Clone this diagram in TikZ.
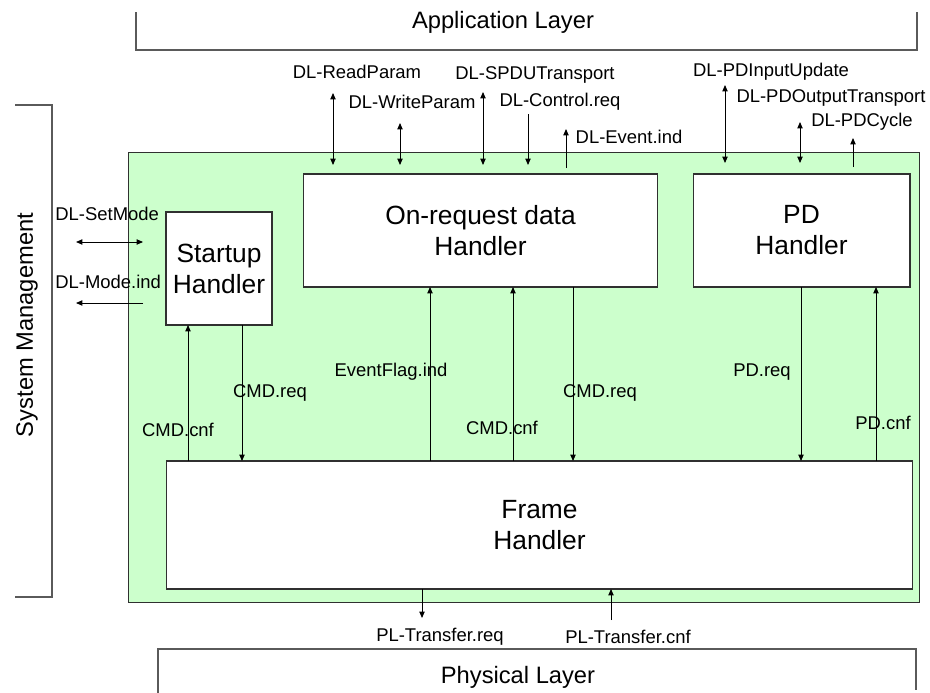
\documentclass[tikz,border=0pt]{standalone}
\usepackage{fontspec}
\setmainfont{Liberation Sans}
\usetikzlibrary{arrows.meta,calc}
\definecolor{LayerGreen}{RGB}{204,255,204}
\definecolor{EdgeGrey}{RGB}{48,48,48}
\definecolor{LayerGrey}{RGB}{90,90,90}

\begin{document}
\begin{tikzpicture}[x=0.02cm, y=-0.02cm,
    font=\fontsize{10.5}{12.6}\selectfont,
    every node/.style={align=center, inner sep=0pt},
    handler/.style={draw=EdgeGrey, fill=white, line width=0.6pt, outer sep=0pt,
      font=\fontsize{15}{17.6}\selectfont},
    layertext/.style={font=\fontsize{13.5}{16}\selectfont},
    layerline/.style={LayerGrey, line width=0.6pt},
    prim/.style={-{Triangle[length=3.6pt,width=3pt]}, line width=0.5pt},
    primboth/.style={{Triangle[length=3.6pt,width=3pt]}-{Triangle[length=3.6pt,width=3pt]}, line width=0.5pt}]
  \useasboundingbox (0,0) rectangle (930,693);

  % neighbouring layers
  \draw[layerline] (136,12) -- (136,50) -- (917,50) -- (917,12);
  \node[layertext] (applayer) at (503,22) {Application Layer};
  \draw[layerline] (15,105) -- (52,105) -- (52,597) -- (15,597);
  \node[layertext, rotate=90] (sysmgmt) at (27,325) {System Management};
  \draw[layerline] (158,693) -- (158,649) -- (916,649) -- (916,690);
  \node[layertext] (phylayer) at (518,677) {Physical Layer};

  % data link layer and its handlers
  \node[draw=EdgeGrey, fill=LayerGreen, line width=0.6pt, outer sep=0pt,
        minimum width=15.84cm, minimum height=9.02cm] (dll) at (524,377.5) {};
  \node[handler, minimum width=2.12cm, minimum height=2.26cm] (startup)
        at (219,268.5) {Startup\\Handler};
  \node[handler, minimum width=7.1cm, minimum height=2.26cm] (ondata)
        at (480.5,230.5) {On-request data\\Handler};
  \node[handler, minimum width=4.34cm, minimum height=2.26cm] (pd)
        at (801.5,230.5) {PD\\Handler};
  \node[handler, minimum width=14.94cm, minimum height=2.56cm] (frame)
        at (539.5,525) {Frame\\Handler};

  % internal services
  \draw[prim] (frame.north -| 188,0) -- (startup.south -| 188,0);
  \draw[prim] (startup.south -| 242,0) -- (frame.north -| 242,0);
  \node (cmdcnfA) at (178,430) {CMD.cnf};
  \node (cmdreqA) at (270,393) {CMD.req};
  \draw[prim] (frame.north -| 430,0) -- (ondata.south -| 430,0);
  \draw[prim] (frame.north -| 513,0) -- (ondata.south -| 513,0);
  \draw[prim] (ondata.south -| 573,0) -- (frame.north -| 573,0);
  \node (eventflag) at (391,372) {EventFlag.ind};
  \node (cmdcnfB) at (502,428) {CMD.cnf};
  \node (cmdreqB) at (600,393) {CMD.req};
  \draw[prim] (pd.south -| 801,0) -- (frame.north -| 801,0);
  \draw[prim] (frame.north -| 876,0) -- (pd.south -| 876,0);
  \node (pdreq) at (762,372) {PD.req};
  \node (pdcnf) at (883,423) {PD.cnf};

  % services to the application layer
  \coordinate (odfeet) at ($(ondata.north)+(0,-9)$);
  \coordinate (pdfeet) at ($(pd.north)+(0,-11)$);
  \coordinate (readparam-in) at (333,93);
  \coordinate (writeparam-in) at (400,123);
  \coordinate (spdu-in) at (483,92);
  \coordinate (control-in) at (528,114);
  \coordinate (event-out) at (566,129);
  \coordinate (pdinput-in) at (725,85);
  \coordinate (pdoutput-in) at (800,122);
  \coordinate (pdcycle-out) at (853,138);
  \draw[primboth] (readparam-in) -- (readparam-in |- odfeet);
  \draw[primboth] (writeparam-in) -- (writeparam-in |- odfeet);
  \draw[primboth] (spdu-in) -- (spdu-in |- odfeet);
  \draw[prim] (control-in) -- (control-in |- odfeet);
  \draw[prim] ($(event-out |- ondata.north)+(0,-6)$) -- (event-out);
  \draw[primboth] (pdinput-in) -- (pdinput-in |- pdfeet);
  \draw[primboth] (pdoutput-in) -- (pdoutput-in |- pdfeet);
  \draw[prim] ($(pdcycle-out |- pd.north)+(0,-7)$) -- (pdcycle-out);
  \node (readparam) at (357,72) {DL-ReadParam};
  \node (writeparam) at (412,102) {DL-WriteParam};
  \node (spdu) at (535,75) {DL-SPDUTransport};
  \node (control) at (560,102) {DL-Control.req};
  \node (event) at (629,137) {DL-Event.ind};
  \node (pdinput) at (771,72) {DL-PDInputUpdate};
  \node (pdoutput) at (831,98) {DL-PDOutputTransport};
  \node (pdcycle) at (862,122) {DL-PDCycle};

  % services to system management
  \coordinate (setmode-out) at (76,242);
  \coordinate (modeind-out) at (76,303);
  \draw[primboth] (setmode-out) -- ($(startup.west |- setmode-out)+(-23,0)$);
  \draw[prim] ($(startup.west |- modeind-out)+(-23,0)$) -- (modeind-out);
  \node[anchor=west] (setmode) at (55,214) {DL-SetMode};
  \node[anchor=west] (modeind) at (55,282) {DL-Mode.ind};

  % services to the physical layer
  \coordinate (transreq-out) at (422,618);
  \coordinate (transcnf-in) at (611,620);
  \draw[prim] (frame.south -| transreq-out) -- (transreq-out);
  \draw[prim] (transcnf-in) -- (frame.south -| transcnf-in);
  \node (transreq) at (440,637) {PL-Transfer.req};
  \node (transcnf) at (628,637) {PL-Transfer.cnf};
\end{tikzpicture}
\end{document}
